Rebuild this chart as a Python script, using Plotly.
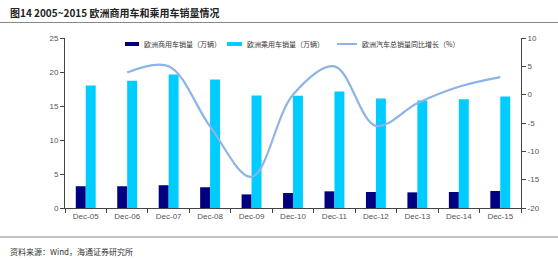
import plotly.graph_objects as go

categories = ["Dec-05", "Dec-06", "Dec-07", "Dec-08", "Dec-09", "Dec-10",
              "Dec-11", "Dec-12", "Dec-13", "Dec-14", "Dec-15"]
commercial = [3.2, 3.2, 3.35, 3.05, 2.0, 2.2, 2.45, 2.35, 2.3, 2.35, 2.5]
passenger = [18.0, 18.7, 19.65, 18.9, 16.55, 16.5, 17.15, 16.1, 15.8, 16.0, 16.4]
growth = [None, 3.9, 5.0, -5.6, -14.5, 0.0, 5.0, -5.5, -1.5, 1.4, 3.1]

name_c = "欧洲商用车销量（万辆）"
name_p = "欧洲乘用车销量（万辆）"
name_g = "欧洲汽车总销量同比增长（%）"
title_text = "图14 2005~2015 欧洲商用车和乘用车销量情况"
source_text = "资料来源：Wind，海通证券研究所"

left_ticks = [0, 5, 10, 15, 20, 25]
right_ticks = [-20, -15, -10, -5, 0, 5, 10]

C_DARK = "#000080"
C_CYAN = "#00CCFF"
C_LINE = "#8CB4E8"
FONT = "Liberation Sans, Arial, sans-serif"
CJK = "Noto Sans CJK SC, sans-serif"

fig = go.Figure()
fig.add_trace(go.Bar(x=categories, y=commercial, name=name_c, marker_color=C_DARK,
                     marker_line_width=0))
fig.add_trace(go.Bar(x=categories, y=passenger, name=name_p, marker_color=C_CYAN,
                     marker_line_width=0))
fig.add_trace(go.Scatter(x=categories, y=growth, name=name_g, yaxis="y2", mode="lines",
                         line=dict(color=C_LINE, width=2.2, shape="spline", smoothing=1.0),
                         connectgaps=False))

fig.update_layout(
    width=558, height=260,
    margin=dict(l=65, r=37, t=38, b=52),
    paper_bgcolor="white", plot_bgcolor="white",
    showlegend=False,
    barmode="group", bargap=0.52, bargroupgap=0,
    font=dict(family=FONT, size=8, color="#555555"),
    xaxis=dict(type="category", showline=True, linecolor="#444444", linewidth=1,
               ticks="outside", tickson="boundaries", ticklen=4, tickcolor="#444444",
               tickfont=dict(size=8, color="#555555"), showgrid=False, zeroline=False),
    yaxis=dict(range=[0, 25], tickvals=left_ticks, ticktext=[str(v) for v in left_ticks],
               showline=True, linecolor="#444444", linewidth=1, ticks="outside",
               ticklen=4, tickcolor="#444444", showgrid=False, zeroline=False,
               tickfont=dict(size=8, color="#555555")),
    yaxis2=dict(range=[-20, 10], overlaying="y", side="right",
                tickvals=right_ticks, ticktext=[str(v) for v in right_ticks],
                showline=True, linecolor="#444444", linewidth=1, ticks="outside",
                ticklen=4, tickcolor="#444444", showgrid=False, zeroline=False,
                tickfont=dict(size=8, color="#555555")),
)

# title, rules, source
fig.add_annotation(x=8, y=12, xref="paper", yref="paper", text="<b>" + title_text + "</b>",
                   showarrow=False, xanchor="left", yanchor="middle",
                   font=dict(family=CJK, size=10, color="#222222"))
fig.add_annotation(x=8, y=251, text=source_text, showarrow=False, xanchor="left",
                   yanchor="middle", font=dict(family=CJK, size=8, color="#333333"))

# Manual legend
legend_items = [(name_c, C_DARK, 4, 125, 139), (name_p, C_CYAN, 4, 227, 242),
                (name_g, C_LINE, 2, 337, 357)]

shapes = []
for name, col, w, x0, x1 in legend_items:
    shapes.append(dict(type="line", xref="paper", yref="paper", x0=x0, x1=x1, y0=44, y1=44,
                       line=dict(color=col, width=w)))
    fig.add_annotation(x=x1 + 3, y=44, text=name, showarrow=False, xanchor="left",
                       yanchor="middle", font=dict(family=CJK, size=7, color="#333333"))

fig.update_layout(shapes=shapes)

# convert pixel positions to paper coordinates for annotations/shapes
pw = 558 - 65 - 37
ph = 260 - 38 - 52
def px_x(x):
    return (x - 65) / pw
def px_y(y):
    return (260 - 52 - y) / ph

for a in fig.layout.annotations:
    a.x = px_x(a.x)
    a.y = px_y(a.y)
new_shapes = []
for s in fig.layout.shapes:
    new_shapes.append(dict(type="line", xref="paper", yref="paper",
                           x0=px_x(s.x0), x1=px_x(s.x1), y0=px_y(s.y0), y1=px_y(s.y1),
                           line=dict(color=s.line.color, width=s.line.width)))
# horizontal rules
new_shapes.append(dict(type="line", xref="paper", yref="paper", x0=px_x(0), x1=px_x(558),
                       y0=px_y(22.5), y1=px_y(22.5), line=dict(color="#888888", width=1)))
new_shapes.append(dict(type="line", xref="paper", yref="paper", x0=px_x(0), x1=px_x(558),
                       y0=px_y(237), y1=px_y(237), line=dict(color="#888888", width=1)))
fig.layout.shapes = new_shapes
for a in fig.layout.annotations:
    pass
fig.update_annotations(xref="paper", yref="paper")

fig.write_html("out.html")
